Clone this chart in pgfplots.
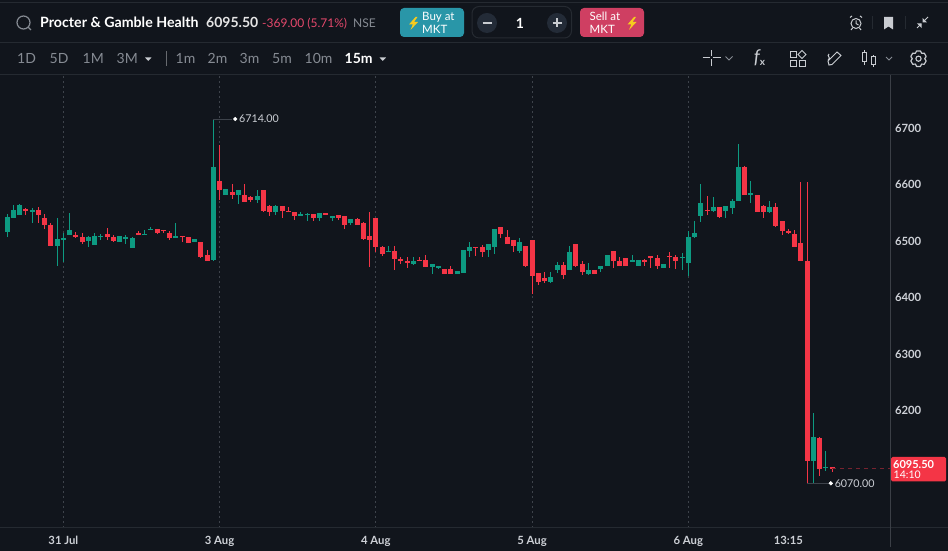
\documentclass[border=0pt]{standalone}
\usepackage{fontspec}
\setmainfont{Lato}
\usepackage{pgfplots}
\usepackage{pgfplotstable}
\pgfplotsset{compat=1.18}
\definecolor{bg}{HTML}{11151C}
\definecolor{sep}{HTML}{252A31}
\definecolor{gridc}{HTML}{3E434B}
\definecolor{upc}{HTML}{0D9A81}
\definecolor{dnc}{HTML}{F43546}
\definecolor{lab}{HTML}{CDD0D6}
\definecolor{dimt}{HTML}{868B93}
\definecolor{ico}{HTML}{C9CCD1}
\definecolor{chg}{HTML}{E5486C}
\definecolor{buy}{HTML}{2996A8}
\definecolor{sell}{HTML}{CF3F62}
\definecolor{bolt}{HTML}{F5CB1E}
\definecolor{stepc}{HTML}{232B37}
\newcommand{\fs}[1]{\fontsize{#1}{#1}\selectfont}
\pgfplotstableread{
i o h l c
0 6514.3 6546.1 6505.4 6540.8
1 6539.0 6562.0 6539.0 6553.2
2 6544.3 6563.8 6544.3 6562.0
4 6549.6 6556.7 6530.2 6553.2
8 6489.5 6539.0 6454.2 6501.9
9 6500.1 6512.0 6461.2 6503.7
10 6509.0 6547.9 6509.0 6517.8
13 6498.4 6507.2 6487.8 6505.4
14 6491.3 6512.5 6491.3 6507.2
15 6506.0 6510.7 6500.1 6507.8
18 6496.6 6507.2 6496.6 6507.2
19 6501.9 6509.0 6493.1 6505.4
20 6486.0 6505.4 6486.0 6503.7
22 6509.0 6517.8 6509.0 6510.7
23 6517.8 6523.1 6517.8 6519.6
27 6503.7 6530.2 6503.7 6507.2
30 6496.6 6501.9 6496.6 6501.9
33 6464.8 6714.0 6463.0 6629.2
35 6579.7 6590.3 6579.7 6590.3
37 6579.7 6588.5 6563.8 6588.5
40 6570.8 6588.5 6565.5 6577.9
43 6549.6 6562.0 6544.3 6560.2
47 6542.6 6549.6 6542.6 6546.1
48 6544.3 6547.9 6533.7 6546.7
50 6539.0 6547.9 6533.7 6547.9
52 6539.0 6542.6 6533.7 6542.6
55 6530.2 6537.3 6526.7 6537.3
61 6478.9 6489.5 6478.9 6480.7
65 6457.7 6470.1 6455.9 6463.0
68 6452.4 6457.7 6440.0 6457.7
69 6450.6 6454.1 6448.8 6454.1
72 6440.0 6445.3 6440.0 6445.3
73 6441.8 6482.4 6441.8 6482.4
74 6480.7 6496.6 6470.0 6487.7
77 6482.4 6493.0 6470.0 6493.0
78 6487.7 6519.5 6475.3 6519.5
82 6480.7 6503.6 6477.1 6496.6
87 6425.9 6443.5 6424.1 6434.7
88 6447.1 6461.2 6441.8 6455.9
90 6447.1 6489.5 6447.1 6478.9
93 6440.0 6459.4 6438.2 6447.1
95 6448.8 6454.1 6443.5 6454.1
96 6454.1 6473.6 6454.1 6473.6
100 6461.2 6473.6 6461.2 6464.7
101 6454.1 6464.7 6454.1 6464.7
105 6450.6 6457.7 6450.6 6457.7
108 6468.3 6477.1 6447.1 6470.0
109 6459.4 6516.0 6436.5 6505.4
110 6505.5 6533.7 6503.7 6512.5
111 6542.6 6599.2 6532.0 6565.6
113 6551.4 6576.2 6549.7 6558.5
115 6551.4 6560.3 6539.1 6560.3
116 6556.7 6572.6 6546.1 6569.1
117 6569.1 6669.9 6569.1 6629.2
119 6579.7 6604.4 6565.6 6583.2
122 6549.7 6569.1 6547.9 6558.5
129 6109.5 6194.3 6070.0 6151.9
131 6097.1 6127.2 6091.8 6098.9
}\upcandles
\pgfplotstableread{
i o h l c
3 6554.9 6556.7 6544.3 6551.4
5 6553.2 6558.5 6530.2 6544.3
6 6539.0 6546.1 6519.6 6526.7
7 6526.7 6530.2 6489.5 6489.5
11 6509.0 6514.3 6503.7 6505.4
12 6505.4 6512.5 6493.1 6496.6
16 6510.7 6521.3 6500.1 6505.4
17 6505.4 6509.0 6496.6 6498.4
21 6512.5 6516.0 6509.0 6509.0
24 6519.6 6519.6 6510.7 6512.5
25 6517.2 6517.8 6512.5 6516.0
26 6512.5 6516.0 6500.1 6503.7
28 6507.2 6507.2 6496.6 6505.4
29 6505.4 6505.4 6494.8 6494.8
31 6496.6 6496.6 6468.3 6470.1
32 6473.6 6482.5 6463.0 6463.0
34 6604.4 6668.1 6570.8 6588.5
36 6585.0 6599.1 6572.6 6579.7
38 6579.7 6599.1 6567.3 6567.3
39 6576.1 6577.9 6567.3 6570.8
41 6588.5 6588.5 6549.6 6551.4
42 6560.2 6562.0 6542.6 6549.6
44 6560.2 6560.2 6539.0 6551.4
45 6551.4 6558.5 6549.6 6549.6
46 6549.6 6549.6 6535.5 6542.6
49 6546.1 6546.1 6533.7 6539.0
51 6547.9 6547.9 6544.3 6544.3
53 6544.3 6544.3 6535.5 6539.0
54 6542.6 6542.6 6519.6 6526.7
56 6537.3 6539.0 6526.7 6526.7
57 6530.2 6532.0 6500.1 6501.9
58 6507.2 6549.6 6452.4 6500.1
59 6539.0 6539.0 6478.9 6487.8
60 6487.8 6489.5 6471.9 6475.4
62 6480.7 6489.5 6447.1 6466.6
63 6466.6 6470.1 6457.7 6463.0
64 6463.0 6470.1 6450.6 6459.5
66 6464.2 6470.1 6463.0 6463.0
67 6464.8 6473.6 6452.4 6452.4
70 6448.8 6448.8 6440.0 6440.0
71 6448.8 6454.1 6440.0 6440.0
75 6487.7 6487.7 6471.8 6486.0
76 6487.7 6491.3 6470.0 6478.9
79 6523.1 6523.1 6503.6 6510.7
80 6505.4 6517.8 6493.0 6493.0
81 6500.1 6500.1 6478.9 6489.5
83 6489.5 6489.5 6452.4 6454.1
84 6500.1 6500.1 6404.6 6436.5
85 6441.8 6441.8 6420.6 6425.9
86 6432.9 6443.5 6424.1 6427.6
89 6455.9 6461.2 6431.2 6438.2
91 6493.0 6493.0 6452.4 6454.1
92 6457.7 6463.0 6438.2 6443.5
94 6447.1 6447.1 6440.0 6440.0
97 6480.7 6480.7 6450.6 6463.0
98 6463.0 6470.0 6454.1 6454.1
99 6468.3 6468.3 6454.1 6454.1
102 6464.7 6466.5 6454.1 6461.2
103 6471.8 6471.8 6450.6 6468.3
104 6468.3 6473.6 6448.8 6454.1
106 6471.8 6478.9 6450.6 6470.6
107 6470.0 6473.6 6448.8 6463.0
112 6553.2 6577.9 6544.4 6551.4
114 6558.5 6558.5 6539.1 6540.8
118 6629.2 6631.0 6579.7 6579.7
120 6579.7 6579.7 6549.7 6549.7
121 6560.3 6562.0 6539.1 6549.7
123 6558.5 6565.6 6523.1 6524.9
124 6533.7 6533.7 6509.0 6516.0
125 6516.0 6519.6 6510.8 6512.5
126 6510.8 6517.8 6487.8 6487.8
127 6494.9 6602.7 6463.0 6463.0
128 6463.0 6602.7 6070.0 6109.5
130 6150.1 6151.9 6083.0 6095.3
132 6098.9 6098.9 6090.0 6095.5
}\downcandles
\begin{document}
\begin{tikzpicture}
\useasboundingbox (0pt,0pt) rectangle (948pt,551pt);
\fill[bg] (0pt,0pt) rectangle (948pt,551pt);
\begin{axis}[
  at={(0pt,23pt)}, anchor=south west, scale only axis,
  width=890pt, height=453pt,
  xmin=-1.13, xmax=141.27, ymin=5991, ymax=6791.8,
  axis line style={draw=none},
  xtick={9,34,59,84,109},
  xticklabels={31 Jul,3 Aug,4 Aug,5 Aug,6 Aug},
  extra x ticks={125}, extra x tick labels={13:15},
  extra x tick style={grid=none},
  ytick={6200,6300,6400,6500,6600,6700},
  yticklabel pos=right,
  xmajorgrids,
  x grid style={gridc, line width=0.8pt, dash pattern=on 2pt off 3pt},
  major tick length=0pt,
  tick style={draw=none},
  /pgf/number format/assume math mode=true,
  /pgf/number format/1000 sep={},
  tick label style={font=\fs{11.3}\bfseries, text=lab},
  yticklabel style={anchor=west, xshift=1.5pt, yshift=-1pt},
  xticklabel style={anchor=base, yshift=-17pt},
  error bars/error mark=none,
]
% wicks
\addplot[draw=none, forget plot, error bars/.cd, y dir=both, y explicit,
  error bar style={upc, line width=1pt}]
  table[x=i, y=c, y error plus expr=\thisrow{h}-\thisrow{c}, y error minus expr=\thisrow{c}-\thisrow{l}]{\upcandles};
\addplot[draw=none, forget plot, error bars/.cd, y dir=both, y explicit,
  error bar style={dnc, line width=1pt}]
  table[x=i, y=c, y error plus expr=\thisrow{h}-\thisrow{c}, y error minus expr=\thisrow{c}-\thisrow{l}]{\downcandles};
% bodies
\addplot[draw=none, forget plot, error bars/.cd, y dir=plus, y explicit,
  error bar style={upc, line width=5pt}]
  table[x=i, y=o, y error plus expr=\thisrow{c}-\thisrow{o}]{\upcandles};
\addplot[draw=none, forget plot, error bars/.cd, y dir=plus, y explicit,
  error bar style={dnc, line width=5pt}]
  table[x=i, y=c, y error plus expr=\thisrow{o}-\thisrow{c}]{\downcandles};
% high and low callouts, last price
\addplot[color=gridc, line width=0.8pt, forget plot] coordinates {(33,6714) (36,6714)};
\addplot[color=gridc, line width=0.8pt, forget plot] coordinates {(128,6070) (131.6,6070)};
\addplot[only marks, mark=*, mark size=1.9pt, color=white, forget plot] coordinates {(36.5,6714) (131.8,6070)};
\addplot[color=dnc!45!bg, line width=0.9pt, dash pattern=on 4pt off 4pt, forget plot] coordinates {(132,6095.5) (141.27,6095.5)};
\node[anchor=west, inner sep=0pt, text=lab, font=\fs{10.7}] at (axis cs:37.1,6714) {6714.00};
\node[anchor=west, inner sep=0pt, text=lab, font=\fs{10.7}] at (axis cs:132.4,6070) {6070.00};
\end{axis}
\begin{scope}[x=1pt, y=-1pt, yshift=551pt]
% separators
\draw[sep, line width=1pt] (0,2.5) -- (948,2.5);
\draw[sep, line width=0.8pt] (0,42.5) -- (948,42.5);
\draw[sep, line width=0.8pt] (0,74.5) -- (948,74.5);
\draw[sep, line width=1pt] (0,527.8) -- (948,527.8);
\draw[sep!90!white, line width=0.8pt] (890.5,75) -- (890.5,547);
% search
\draw[dimt, line width=1.2pt] (23.5,22.5) circle (6.5);
\draw[dimt, line width=1.2pt] (28.3,27.3) -- (31,30);
% header
\node[anchor=base west, inner sep=0pt, text=white, font=\fs{14.2}\bfseries] at (40,28) {Procter \& Gamble Health};
\node[anchor=base west, inner sep=0pt, text=white!90!black, font=\fs{14}\bfseries] at (206,28) {6095.50};
\node[anchor=base west, inner sep=0pt, text=chg, font=\fs{12}] at (262,28) {-369.00 (5.71\%)};
\node[anchor=base west, inner sep=0pt, text=dimt, font=\fs{12}] at (353,28) {NSE};
% buy
\fill[buy, rounded corners=4pt] (400,8) rectangle (464,37);
\fill[bolt] (415.5,17) -- (409,24.5) -- (412.8,24.5) -- (410.5,30) -- (418,22) -- (414,22) -- (417.5,17) -- cycle;
\node[anchor=base west, inner sep=0pt, text=white, font=\fs{11.5}] at (422,21) {Buy at};
\node[anchor=base west, inner sep=0pt, text=white, font=\fs{11.5}] at (422,34) {MKT};
% stepper
\draw[sep, line width=1pt, rounded corners=7pt] (472,6.5) rectangle (571.5,38);
\fill[stepc] (487,23) circle (10);
\fill[stepc] (557,23) circle (10);
\draw[ico, line width=1.4pt] (482.5,23) -- (491.5,23);
\draw[ico, line width=1.4pt] (552.5,23) -- (561.5,23) (557,18.5) -- (557,27.5);
\node[inner sep=0pt, text=white, font=\fs{14}\bfseries] at (520,23.5) {1};
% sell
\fill[sell, rounded corners=4pt] (580,8) rectangle (644,37);
\node[anchor=base west, inner sep=0pt, text=white, font=\fs{11.5}] at (589.5,21) {Sell at};
\node[anchor=base west, inner sep=0pt, text=white, font=\fs{11.5}] at (589.5,34) {MKT};
\fill[bolt] (634,17) -- (627.5,24.5) -- (631.3,24.5) -- (629,30) -- (636.5,22) -- (632.5,22) -- (636,17) -- cycle;
% top-right icons
\draw[ico, line width=1pt] (856,23.5) circle (5);
\draw[ico, line width=1pt] (856,20.5) -- (856,23.5) -- (858.5,25);
\draw[ico, line width=1pt] (850,17.5) -- (852,16) (862,17.5) -- (860,16) (852.5,28) -- (851,30) (859.5,28) -- (861,30);
\draw[sep, line width=1pt] (872.5,16) -- (872.5,29) (905.5,16) -- (905.5,29);
\fill[ico] (884,17) -- (893,17) -- (893,29.5) -- (888.5,26.5) -- (884,29.5) -- cycle;
\draw[ico, line width=1pt] (923.5,21.5) -- (928,17) (917,28) -- (921,24);
\fill[ico] (922.5,17.8) -- (922.5,22.5) -- (927.2,22.5) -- cycle;
\fill[ico] (921.7,28.2) -- (921.7,23.5) -- (917,23.5) -- cycle;
% intervals
\foreach \t/\x in {1D/17,5D/49.5,1M/82.5,3M/116.5,1m/175.5,2m/207.5,3m/239.5,5m/272,10m/304.5}{
  \node[anchor=base west, inner sep=0pt, text=dimt, font=\fs{14}] at (\x,64) {\t};}
\node[anchor=base west, inner sep=0pt, text=white, font=\fs{14}\bfseries] at (344.5,64) {15m};
\fill[ico] (145,57.5) -- (151.5,57.5) -- (148.25,60.8) -- cycle;
\fill[ico] (379.5,57.5) -- (386,57.5) -- (382.75,60.8) -- cycle;
\draw[sep!70!white, line width=1pt] (166.5,51) -- (166.5,66);
% chart tools
\draw[ico, line width=1pt] (702.5,58) -- (710,58) (713,58) -- (720.5,58) (711.5,50.5) -- (711.5,56.5) (711.5,59.5) -- (711.5,66.5);
\draw[dimt, line width=1pt] (725.5,56.5) -- (729,60) -- (732.5,56.5);
\node[inner sep=0pt, text=ico, font=\fs{19}\itshape] at (757,58) {f};
\node[inner sep=0pt, text=ico, font=\fs{10}\bfseries] at (762.5,62.5) {x};
\draw[ico, line width=1pt] (790,52) rectangle (796,58) (790,60.5) rectangle (796,66.5) (799,60.5) rectangle (805,66.5);
\draw[ico, line width=1pt] (802,50.5) -- (806,54.5) -- (802,58.5) -- (798,54.5) -- cycle;
\draw[ico, line width=1pt] (829,65) -- (828,61) -- (837,52) -- (841,55.5) -- (832,64.5) -- cycle;
\draw[ico, line width=1pt] (829,54) .. controls (826,56) and (832,58) .. (828,60);
\draw[ico, line width=1pt] (864.5,50.5) -- (864.5,53) (864.5,62) -- (864.5,65) (873,55.5) -- (873,57) (873,65) -- (873,67.5);
\draw[ico, line width=1pt] (862.5,53) rectangle (866.5,62) (871,57) rectangle (875,65);
\draw[dimt, line width=1pt] (886,57) -- (889,60) -- (892,57);
\draw[ico, line width=1.2pt, line join=round, shift={(918.5,58.7)}]
  (90-14:8) -- (90+14:8) -- (120:6.2) -- (150-14:8) -- (150+14:8) -- (180:6.2) -- (210-14:8) -- (210+14:8) -- (240:6.2) -- (270-14:8) -- (270+14:8) -- (300:6.2) -- (330-14:8) -- (330+14:8) -- (0:6.2) -- (30-14:8) -- (30+14:8) -- (60:6.2) -- cycle;
\draw[ico, line width=1.1pt] (918.5,58.7) circle (2.6);
% last-price tag
\fill[dnc, rounded corners=1.5pt] (891,457) rectangle (946,481.5);
\node[anchor=base west, inner sep=0pt, text=white, font=\fs{11}\bfseries] at (893,468.5) {6095.50};
\node[anchor=base west, inner sep=0pt, text=white, font=\fs{10.5}] at (893.5,479) {14:10};
\end{scope}
\end{tikzpicture}
\end{document}
